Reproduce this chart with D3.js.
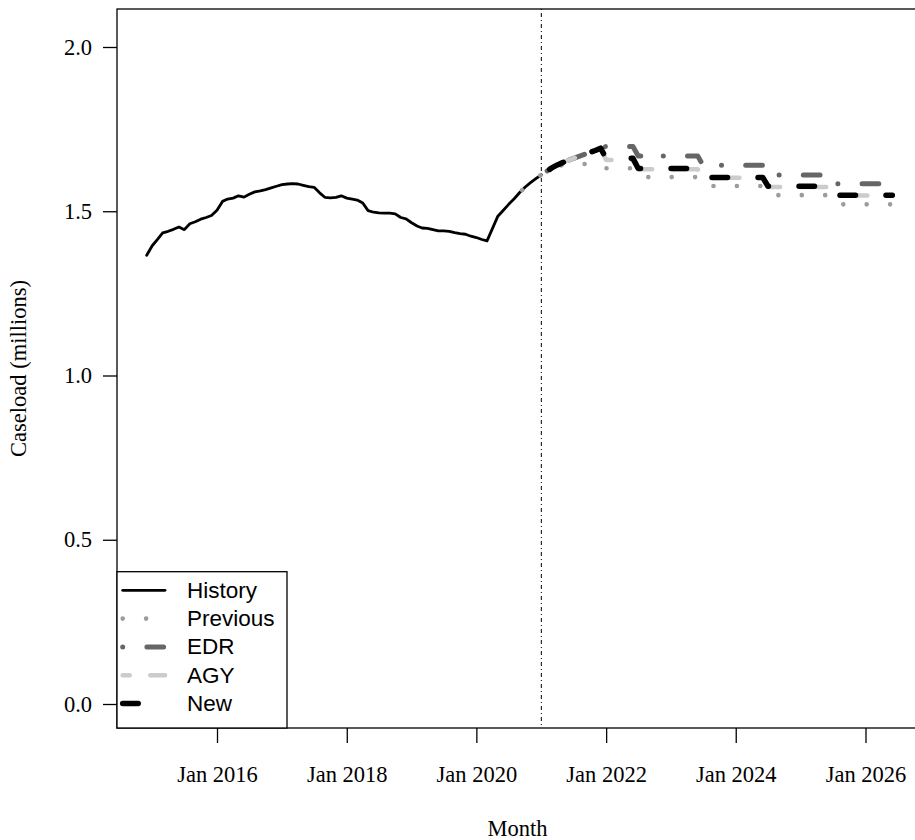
<!DOCTYPE html>
<html>
<head>
<meta charset="utf-8">
<script src="https://cdn.jsdelivr.net/npm/d3@7"></script>
<style>
  html, body { margin: 0; padding: 0; background: #ffffff; }
  svg { display: block; }
</style>
</head>
<body>
<svg id="chart" width="915" height="840"></svg>
<script>
// ---------------- DATA ----------------
const historyStart = "2014-12-01";
const historyValues = [
  1.366, 1.395, 1.415, 1.434, 1.439, 1.445, 1.452, 1.444, 1.462, 1.468, 1.476, 1.481,
  1.487, 1.503, 1.530, 1.537, 1.540, 1.547, 1.543, 1.552, 1.559, 1.562, 1.566, 1.571,
  1.576, 1.581, 1.583, 1.584, 1.583, 1.579, 1.575, 1.573, 1.556, 1.542, 1.541, 1.542,
  1.547, 1.540, 1.537, 1.534, 1.525, 1.502, 1.497, 1.495, 1.494, 1.494, 1.492, 1.481,
  1.477, 1.465, 1.455, 1.449, 1.448, 1.444, 1.440, 1.440, 1.439, 1.435, 1.432, 1.430,
  1.424, 1.420, 1.414, 1.410, 1.448, 1.485, 1.503, 1.521, 1.538, 1.557, 1.573, 1.587,
  1.599, 1.611
];

const previousStart = "2020-07-01";
const previousValues = [
  1.521, 1.538, 1.557, 1.573, 1.587, 1.599,
  1.611, 1.621, 1.630, 1.636, 1.641, 1.643, 1.644, 1.644, 1.644, 1.644, 1.644, 1.644,
  1.631, 1.631, 1.631, 1.631, 1.631, 1.631,
  1.604, 1.604, 1.604, 1.604, 1.604, 1.604, 1.604, 1.604, 1.604, 1.604, 1.604, 1.604,
  1.577, 1.577, 1.577, 1.577, 1.577, 1.577, 1.577, 1.577, 1.577, 1.577, 1.577, 1.577,
  1.549, 1.549, 1.549, 1.549, 1.549, 1.549, 1.549, 1.549, 1.549, 1.549, 1.549, 1.549,
  1.521, 1.521, 1.521, 1.521, 1.521, 1.521, 1.521, 1.521, 1.521, 1.521, 1.521, 1.521
];

const forecastStart = "2021-01-01";
const edrValues = [
  1.611, 1.622, 1.632, 1.641, 1.648, 1.655, 1.661, 1.667, 1.673, 1.679, 1.685, 1.695,
  1.697, 1.697, 1.697, 1.697, 1.697, 1.697,
  1.668, 1.668, 1.668, 1.668, 1.668, 1.668, 1.668, 1.668, 1.668, 1.668, 1.668, 1.668,
  1.640, 1.640, 1.640, 1.640, 1.640, 1.640, 1.640, 1.640, 1.640, 1.640, 1.640, 1.640,
  1.610, 1.610, 1.610, 1.610, 1.610, 1.610, 1.610, 1.610, 1.610, 1.610, 1.610, 1.610,
  1.584, 1.584, 1.584, 1.584, 1.584, 1.584, 1.584, 1.584, 1.584, 1.584, 1.584, 1.584
];
const agyValues = [
  1.611, 1.622, 1.632, 1.641, 1.648, 1.655, 1.661, 1.667, 1.673, 1.679, 1.685, 1.692,
  1.656, 1.656, 1.656, 1.656, 1.656, 1.656,
  1.628, 1.628, 1.628, 1.628, 1.628, 1.628, 1.628, 1.628, 1.628, 1.628, 1.628, 1.628,
  1.602, 1.602, 1.602, 1.602, 1.602, 1.602, 1.602, 1.602, 1.602, 1.602, 1.602, 1.602,
  1.574, 1.574, 1.574, 1.574, 1.574, 1.574, 1.574, 1.574, 1.574, 1.574, 1.574, 1.574,
  1.548, 1.548, 1.548, 1.548, 1.548, 1.548, 1.548, 1.548, 1.548, 1.548, 1.548, 1.548
];
const newValues = [
  1.611, 1.622, 1.632, 1.641, 1.648, 1.655, 1.661, 1.667, 1.673, 1.679, 1.685, 1.692,
  1.661, 1.661, 1.661, 1.661, 1.661, 1.661,
  1.630, 1.630, 1.630, 1.630, 1.630, 1.630, 1.630, 1.630, 1.630, 1.630, 1.630, 1.630,
  1.603, 1.603, 1.603, 1.603, 1.603, 1.603, 1.603, 1.603, 1.603, 1.603, 1.603, 1.603,
  1.576, 1.576, 1.576, 1.576, 1.576, 1.576, 1.576, 1.576, 1.576, 1.576, 1.576, 1.576,
  1.549, 1.549, 1.549, 1.549, 1.549, 1.549, 1.549, 1.549, 1.549, 1.549, 1.549, 1.549
];

const forecastCutoff = "2021-01-01";
const xTickDates = ["2016-01-01", "2018-01-01", "2020-01-01", "2022-01-01", "2024-01-01", "2026-01-01"];
const xTickLabels = ["Jan 2016", "Jan 2018", "Jan 2020", "Jan 2022", "Jan 2024", "Jan 2026"];
const yTickValues = [0, 0.5, 1, 1.5, 2];
const yTickLabels = ["0.0", "0.5", "1.0", "1.5", "2.0"];
const legendLabels = ["History", "Previous", "EDR", "AGY", "New"];
const xAxisTitle = "Month";
const yAxisTitle = "Caseload (millions)";

// ---------------- LAYOUT ----------------
const svg = d3.select("#chart");
const box = { left: 117, top: 9, right: 918, bottom: 728 };
const serif = "'Liberation Serif', 'Times New Roman', serif";
const sans = "'Liberation Sans', Arial, Helvetica, sans-serif";
const axisFont = 22.5;
const legendFont = 22.5;

const parse = d3.utcParse("%Y-%m-%d");
const x = d3.scaleUtc()
  .domain([parse("2016-01-01"), parse("2026-01-01")])
  .range([217, 865.5]);
const y = d3.scaleLinear().domain([0, 2]).range([704, 47]);

function series(start, values) {
  const s = parse(start);
  return values.map((v, i) => ({ date: d3.utcMonth.offset(s, i), value: v }));
}
const line = d3.line().x(d => x(d.date)).y(d => y(d.value));

const plot = svg.append("g");
svg.append("defs").append("clipPath").attr("id", "clip")
  .append("rect").attr("x", box.left).attr("y", box.top)
  .attr("width", box.right - box.left).attr("height", box.bottom - box.top);

// vertical cutoff line
plot.append("line")
  .attr("x1", x(parse(forecastCutoff))).attr("x2", x(parse(forecastCutoff)))
  .attr("y1", box.top).attr("y2", box.bottom)
  .attr("stroke", "#000").attr("stroke-width", 1)
  .attr("stroke-dasharray", "1 3 4 3");

function lengthAtX(node, targetX) {
  let lo = 0, hi = node.getTotalLength();
  for (let i = 0; i < 40; i++) {
    const mid = (lo + hi) / 2;
    if (node.getPointAtLength(mid).x < targetX) lo = mid; else hi = mid;
  }
  return lo;
}
function mod(a, p) { return ((a % p) + p) % p; }

const g = plot.append("g").attr("clip-path", "url(#clip)");

// History
g.append("path").datum(series(historyStart, historyValues))
  .attr("d", line).attr("fill", "none").attr("stroke", "#000")
  .attr("stroke-width", 2.8).attr("stroke-linejoin", "round").attr("stroke-linecap", "round");

// Previous (dotted)
const prevPath = g.append("path").datum(series(previousStart, previousValues))
  .attr("d", line).attr("fill", "none").attr("stroke", "#9c9c9c")
  .attr("stroke-width", 4.6).attr("stroke-linecap", "round").attr("stroke-linejoin", "round")
  .attr("stroke-dasharray", "0.01 23.39");
{
  const L = lengthAtX(prevPath.node(), 671.7);
  prevPath.attr("stroke-dashoffset", mod(-L, 23.4));
}

// EDR (dot-dash)
const edrPath = g.append("path").datum(series(forecastStart, edrValues))
  .attr("d", line).attr("fill", "none").attr("stroke", "#666666")
  .attr("stroke-width", 5).attr("stroke-linecap", "round").attr("stroke-linejoin", "round")
  .attr("stroke-dasharray", "0.01 24.2 16.7 22.59");
{
  const L = lengthAtX(edrPath.node(), 663.3);
  edrPath.attr("stroke-dashoffset", mod(-L, 63.5));
}

// AGY (dashed, light grey)
const agyPath = g.append("path").datum(series(forecastStart, agyValues))
  .attr("d", line).attr("fill", "none").attr("stroke", "#cccccc")
  .attr("stroke-width", 4.6).attr("stroke-linecap", "round").attr("stroke-linejoin", "round")
  .attr("stroke-dasharray", "25.5 20.5");
{
  const L = lengthAtX(agyPath.node(), 741.7) - 2.3;
  agyPath.attr("stroke-dashoffset", mod(25.5 - L, 46));
}

// New (dashed, black)
const newPath = g.append("path").datum(series(forecastStart, newValues))
  .attr("d", line).attr("fill", "none").attr("stroke", "#000000")
  .attr("stroke-width", 5.5).attr("stroke-linecap", "round").attr("stroke-linejoin", "round")
  .attr("stroke-dasharray", "15.5 30.5");
{
  const L = lengthAtX(newPath.node(), 668.3) + 2.75;
  newPath.attr("stroke-dashoffset", mod(-L, 46));
}

// Box
plot.append("rect")
  .attr("x", box.left).attr("y", box.top)
  .attr("width", box.right - box.left).attr("height", box.bottom - box.top)
  .attr("fill", "none").attr("stroke", "#000").attr("stroke-width", 1.3);

// Y axis
const yAxis = d3.axisLeft(y).tickValues(yTickValues)
  .tickFormat((d, i) => yTickLabels[i]).tickSize(14).tickPadding(11);
const yg = svg.append("g").attr("transform", `translate(${box.left},0)`).call(yAxis);
yg.select(".domain").remove();
yg.selectAll(".tick line").attr("stroke", "#000").attr("stroke-width", 1.3);
yg.selectAll(".tick text").attr("font-family", serif).attr("font-size", axisFont).attr("fill", "#000");

// X axis
const xAxis = d3.axisBottom(x).tickValues(xTickDates.map(parse))
  .tickFormat((d, i) => xTickLabels[i]).tickSize(15).tickPadding(23);
const xg = svg.append("g").attr("transform", `translate(0,${box.bottom})`).call(xAxis);
xg.select(".domain").remove();
xg.selectAll(".tick line").attr("stroke", "#000").attr("stroke-width", 1.3);
xg.selectAll(".tick text").attr("font-family", serif).attr("font-size", axisFont).attr("fill", "#000");

// Axis titles
svg.append("text").attr("x", (box.left + box.right) / 2).attr("y", 828)
  .attr("text-anchor", "middle").attr("dominant-baseline", "central")
  .attr("font-family", serif).attr("font-size", axisFont).text(xAxisTitle);
svg.append("text").attr("transform", `translate(18,${(box.top + box.bottom) / 2}) rotate(-90)`)
  .attr("text-anchor", "middle").attr("dominant-baseline", "central")
  .attr("font-family", serif).attr("font-size", axisFont).text(yAxisTitle);

// Legend
const lg = svg.append("g");
const lgBox = { x: box.left, y: 571.7, w: 170, h: box.bottom - 571.7 };
lg.append("rect").attr("x", lgBox.x).attr("y", lgBox.y).attr("width", lgBox.w).attr("height", lgBox.h)
  .attr("fill", "#fff").attr("stroke", "#000").attr("stroke-width", 1.3);
const legendStyles = [
  { stroke: "#000", width: 2.8, dash: null, offset: 0 },
  { stroke: "#9c9c9c", width: 4.6, dash: "0.01 23.39", offset: 0 },
  { stroke: "#666666", width: 5, dash: "0.01 24.2 16.7 22.59", offset: 0 },
  { stroke: "#cccccc", width: 4.6, dash: "25.5 20.5", offset: 18.45 },
  { stroke: "#000", width: 5.5, dash: "15.5 30.5", offset: 0 }
];
const rowY = i => 590.3 + i * 28.3;
legendLabels.forEach((lab, i) => {
  const st = legendStyles[i];
  const ln = lg.append("line").attr("x1", 122.7).attr("x2", 165)
    .attr("y1", rowY(i)).attr("y2", rowY(i))
    .attr("stroke", st.stroke).attr("stroke-width", st.width).attr("stroke-linecap", "round");
  if (st.dash) ln.attr("stroke-dasharray", st.dash).attr("stroke-dashoffset", st.offset);
  lg.append("text").attr("x", 187).attr("y", rowY(i)).attr("dominant-baseline", "central")
    .attr("font-family", sans).attr("font-size", legendFont).attr("fill", "#000").text(lab);
});
</script>
</body>
</html>
